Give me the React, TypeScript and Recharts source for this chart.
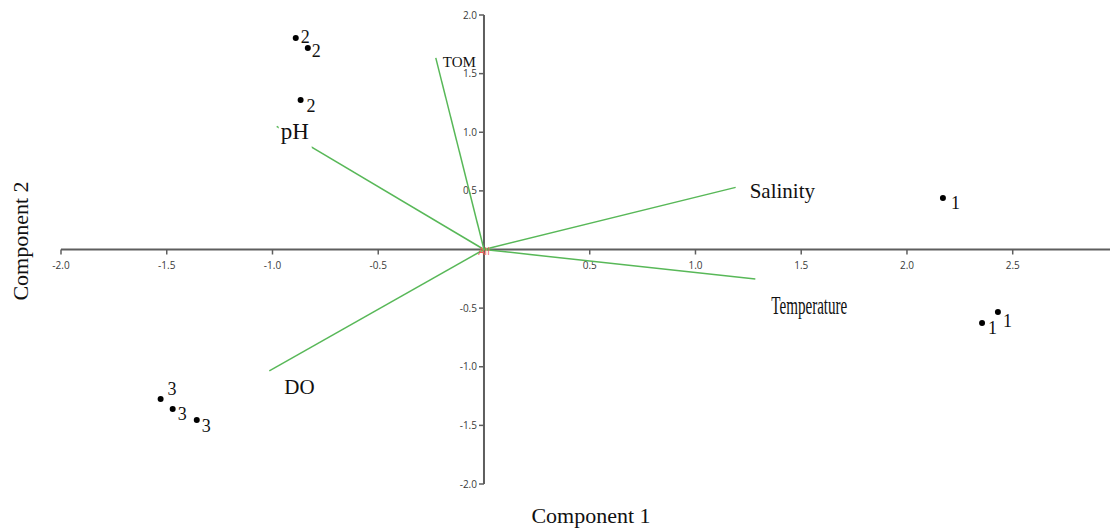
import React from 'react';
import { ScatterChart, Scatter, XAxis, YAxis } from 'recharts';

// tick labels
const xTicks = [-2.0, -1.5, -1.0, -0.5, 0.5, 1.0, 1.5, 2.0, 2.5];
const yTicks = [2.0, 1.5, 1.0, 0.5, -0.5, -1.0, -1.5, -2.0];
const xMin = -2.0;
const xMax = 2.96;
const yMin = -2.0;
const yMax = 2.0;

// sample scores (component 1, component 2) and their group
const sampleX = [-0.89, -0.833, -0.867, 2.17, 2.43, 2.355, -1.529, -1.472, -1.358];
const sampleY = [1.804, 1.719, 1.275, 0.439, -0.533, -0.627, -1.275, -1.36, -1.454];
const sampleGroup = ['2', '2', '2', '1', '1', '1', '3', '3', '3'];

// variable loadings
const variableNames = ['TOM', 'pH', 'Salinity', 'Temperature', 'DO'];
const loadingX = [-0.228, -0.98, 1.19, 1.283, -1.015];
const loadingY = [1.634, 1.05, 0.53, -0.252, -1.036];

// label placement (pixels, relative to the mark)
const sampleLabelOffset = [
  [5, 5], [4, 9], [6, 12], [8, 11], [5, 15], [6, 11], [7, -4], [5, 11], [5, 12],
];
const variableLabelStyle: Record<string, { dx: number; dy: number; size: number; len?: number; box?: boolean }> = {
  TOM: { dx: 7, dy: 9, size: 15 },
  pH: { dx: 4, dy: 13, size: 23, box: true },
  Salinity: { dx: 14, dy: 11, size: 21 },
  Temperature: { dx: 16, dy: 35, size: 25, len: 76 },
  DO: { dx: 15, dy: 23, size: 21 },
};

const GREEN = '#58b858';
const AXIS = '#5e5e5e';
const SERIF = '"Liberation Serif", "Times New Roman", serif';
const SANS = '"Open Sans", "Noto Sans", sans-serif';

const samples = sampleX.map((x, i) => ({ x, y: sampleY[i], group: sampleGroup[i], i }));
const vectors = variableNames.map((name, i) => ({
  name,
  data: [{ x: 0, y: 0 }, { x: loadingX[i], y: loadingY[i] }],
}));
const vectorEnds = variableNames.map((name, i) => ({ x: loadingX[i], y: loadingY[i], name }));
const xTickData = xTicks.map((v) => ({ x: v, y: 0, label: v.toFixed(1) }));
const yTickData = yTicks.map((v) => ({ x: 0, y: v, label: v.toFixed(1) }));
const xAxisLine = [{ x: xMin, y: 0 }, { x: xMax, y: 0 }];
const yAxisLine = [{ x: 0, y: yMin }, { x: 0, y: yMax }];

const Nothing = () => <g />;

const XTick = (props: any) => {
  const { cx, cy, payload } = props;
  return (
    <g>
      <line x1={cx} y1={cy} x2={cx} y2={cy + 5} stroke={AXIS} strokeWidth={1.5} />
      <text x={cx} y={cy + 19} textAnchor="middle" fontSize={10} fill="#3a3a3a" fontFamily={SANS}>
        {payload.label}
      </text>
    </g>
  );
};

const YTick = (props: any) => {
  const { cx, cy, payload } = props;
  return (
    <g>
      <line x1={cx - 5} y1={cy} x2={cx} y2={cy} stroke={AXIS} strokeWidth={1.5} />
      <text x={cx - 7} y={cy + 3.5} textAnchor="end" fontSize={10} fill="#3a3a3a" fontFamily={SANS}>
        {payload.label}
      </text>
    </g>
  );
};

const SamplePoint = (props: any) => {
  const { cx, cy, payload } = props;
  const [dx, dy] = sampleLabelOffset[payload.i];
  return (
    <g>
      <circle cx={cx} cy={cy} r={3} fill="#000" />
      <text x={cx + dx} y={cy + dy} fontSize={18} fill="#111" fontFamily={SERIF}>
        {payload.group}
      </text>
    </g>
  );
};

const VectorLabel = (props: any) => {
  const { cx, cy, payload } = props;
  const s = variableLabelStyle[payload.name];
  return (
    <g>
      {s.box && <rect x={cx + 2} y={cy - 8} width={33} height={32} fill="#fff" />}
      <text
        x={cx + s.dx}
        y={cy + s.dy}
        fontSize={s.size}
        fill="#111"
        fontFamily={SERIF}
        textLength={s.len}
        lengthAdjust={s.len ? 'spacingAndGlyphs' : undefined}
      >
        {payload.name}
      </text>
    </g>
  );
};

const Origin = (props: any) => {
  const { cx, cy } = props;
  return (
    <text x={cx} y={cy + 5} textAnchor="middle" fontSize={10} fill="#f05a5a" fontFamily={SANS}>
      All
    </text>
  );
};

export default function App() {
  return (
    <div style={{ position: 'absolute', left: 0, top: 0, width: 1110, height: 531, background: '#fff' }}>
      <ScatterChart width={1110} height={531} margin={{ top: 15, right: 0, bottom: 47, left: 61 }}>
        <XAxis type="number" dataKey="x" domain={[xMin, xMax]} hide />
        <YAxis type="number" dataKey="y" domain={[yMin, yMax]} hide />
        <Scatter data={xAxisLine} line={{ stroke: AXIS, strokeWidth: 2 }} shape={Nothing} isAnimationActive={false} />
        <Scatter data={yAxisLine} line={{ stroke: AXIS, strokeWidth: 2 }} shape={Nothing} isAnimationActive={false} />
        <Scatter data={xTickData} shape={XTick} isAnimationActive={false} />
        <Scatter data={yTickData} shape={YTick} isAnimationActive={false} />
        {vectors.map((v) => (
          <Scatter
            key={v.name}
            data={v.data}
            line={{ stroke: GREEN, strokeWidth: 1.5 }}
            shape={Nothing}
            isAnimationActive={false}
          />
        ))}
        <Scatter data={vectorEnds} shape={VectorLabel} isAnimationActive={false} />
        <Scatter data={[{ x: 0, y: 0 }]} shape={Origin} isAnimationActive={false} />
        <Scatter data={samples} shape={SamplePoint} isAnimationActive={false} />
      </ScatterChart>
      <div
        style={{
          position: 'absolute',
          left: 0,
          width: 1182,
          top: 503,
          textAlign: 'center',
          fontFamily: SERIF,
          fontSize: 22,
          color: '#111',
        }}
      >
        Component 1
      </div>
      <div
        style={{
          position: 'absolute',
          left: 21,
          top: 241,
          transform: 'translate(-50%, -50%) rotate(-90deg)',
          whiteSpace: 'nowrap',
          fontFamily: SERIF,
          fontSize: 22,
          color: '#111',
        }}
      >
        Component 2
      </div>
    </div>
  );
}
